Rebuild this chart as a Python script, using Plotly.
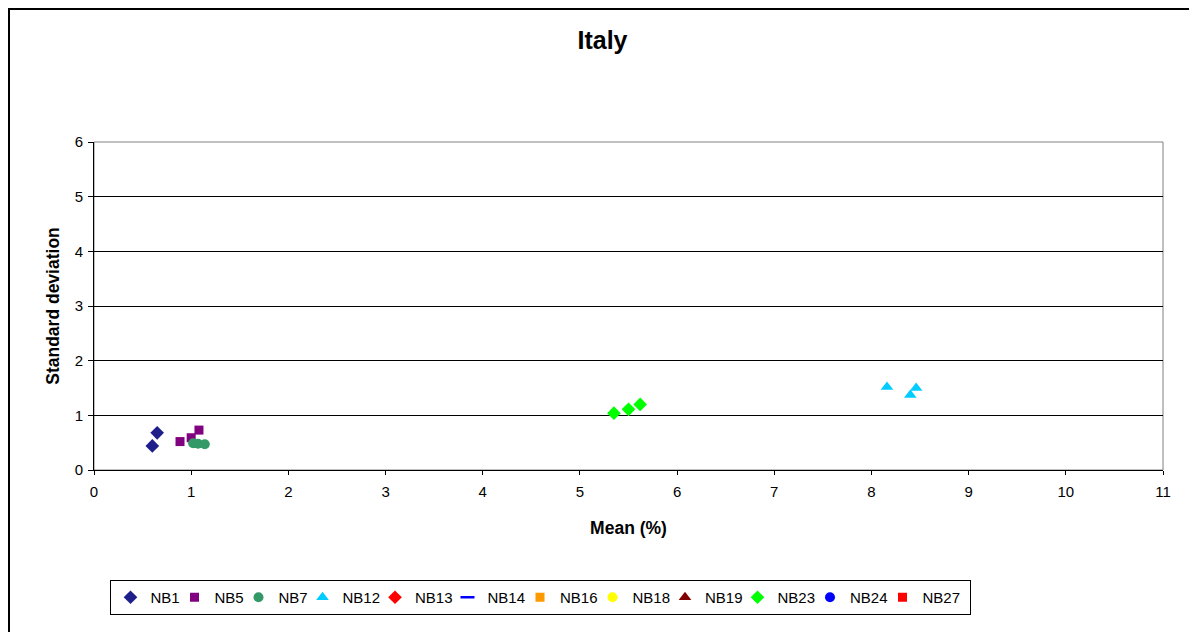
import plotly.graph_objects as go

# Data (mean %, standard deviation)
nb1_x = [0.65, 0.60]
nb1_y = [0.68, 0.44]
nb5_x = [0.885, 1.00, 1.08]
nb5_y = [0.52, 0.59, 0.73]
nb7_x = [1.02, 1.07, 1.14]
nb7_y = [0.49, 0.48, 0.47]
nb12_x = [8.16, 8.40, 8.46]
nb12_y = [1.52, 1.37, 1.50]
nb23_x = [5.35, 5.50, 5.62]
nb23_y = [1.04, 1.11, 1.20]

x_ticks = list(range(0, 12))
y_ticks = list(range(0, 7))

series = [
    ("NB1", nb1_x, nb1_y, "diamond", "#1F1F8C"),
    ("NB5", nb5_x, nb5_y, "square", "#800080"),
    ("NB7", nb7_x, nb7_y, "circle", "#339966"),
    ("NB12", nb12_x, nb12_y, "triangle-up", "#00CCFF"),
    ("NB13", [None], [None], "diamond", "#FF0000"),
    ("NB14", [None], [None], "line-ew-open", "#0000FF"),
    ("NB16", [None], [None], "square", "#FF9900"),
    ("NB18", [None], [None], "circle", "#FFFF00"),
    ("NB19", [None], [None], "triangle-up", "#800000"),
    ("NB23", nb23_x, nb23_y, "diamond", "#00FF00"),
    ("NB24", [None], [None], "circle", "#0000FF"),
    ("NB27", [None], [None], "square", "#FF0000"),
]

sizes = {"diamond": 10.5, "square": 9, "circle": 10, "triangle-up": 11, "line-ew-open": 10}

W, H = 1189, 640
L, T, R, B = 86, 134, 34, 178
PW, PH = W - L - R, H - T - B

fig = go.Figure()
for i, (name, xs, ys, sym, col) in enumerate(series):
    marker = dict(symbol=sym, color=col, size=sizes[sym], line=dict(width=0))
    if sym == "line-ew-open":
        marker = dict(symbol=sym, color=col, size=10, line=dict(color=col, width=2.5))
    tw = 29 if len(name) == 3 else 37.5
    lw = tw - 10 if i < len(series) - 1 else tw + 4
    fig.add_trace(go.Scatter(x=xs, y=ys, mode="markers", name=name, marker=marker,
                             legendwidth=lw))

fig.update_layout(
    width=W, height=H,
    paper_bgcolor="white", plot_bgcolor="white",
    font=dict(family="Liberation Sans, Arial", size=15, color="black"),
    title=dict(text="<b>Italy</b>", x=0.5, xanchor="center", y=1 - 32 / H, yanchor="middle",
               font=dict(size=25, color="black")),
    margin=dict(l=L, r=R, t=T, b=B),
    showlegend=True,
    legend=dict(orientation="h", x=(532 - L) / PW, xanchor="center",
                y=(462 - 572) / PH, yanchor="top",
                bordercolor="black", borderwidth=1, font=dict(size=15),
                itemwidth=30, tracegroupgap=0),
    xaxis=dict(range=[0, 11], tickvals=x_ticks, showgrid=False, zeroline=False,
               showline=True, linecolor="black", linewidth=1, ticks="outside",
               ticklen=4, tickcolor="black", tickfont=dict(size=15),
               ticklabelstandoff=4,
               title=dict(text="<b>Mean (%)</b>", font=dict(size=17.5), standoff=22)),
    yaxis=dict(range=[0, 6], tickvals=y_ticks, showgrid=True, gridcolor="black",
               gridwidth=1, zeroline=False, showline=True, linecolor="black",
               linewidth=1, ticks="outside", ticklen=5, tickcolor="black",
               tickfont=dict(size=15), ticklabelstandoff=2,
               title=dict(text="<b>Standard deviation</b>", font=dict(size=17.5), standoff=10)),
    shapes=[
        dict(type="rect", xref="paper", yref="paper", x0=0, x1=1, y0=0, y1=1,
             line=dict(color="#808080", width=1), layer="below"),
        dict(type="rect", xref="paper", yref="paper",
             x0=(-L + 1) / PW, x1=(W - 2 - L) / PW,
             y0=-(B + 10) / PH, y1=1 + (T - 1) / PH,
             line=dict(color="black", width=2)),
    ],
)

fig.write_html("out.html")
